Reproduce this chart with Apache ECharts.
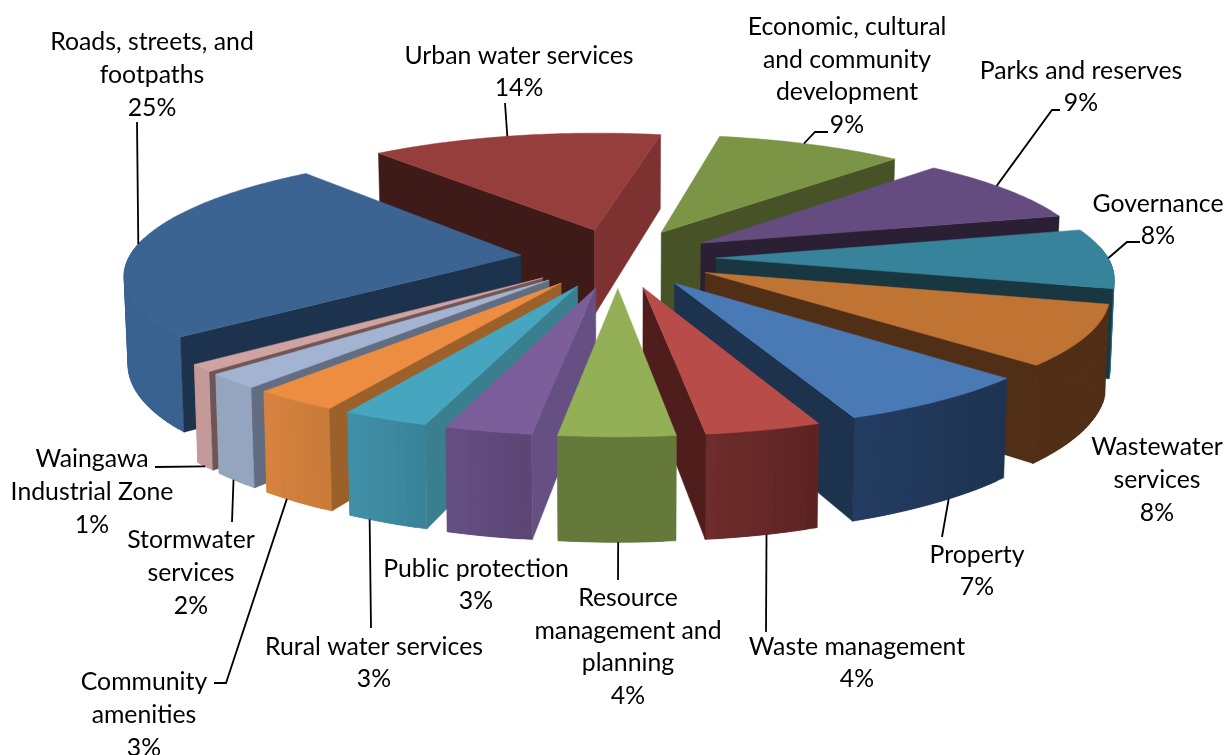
<!DOCTYPE html>
<html>
<head>
<meta charset="utf-8">
<title>Spending by activity</title>
<style>html,body{margin:0;padding:0;background:#fff}#chart{width:1226px;height:755px}</style>
<script src="https://cdn.jsdelivr.net/npm/echarts@6/dist/echarts.min.js"></script>
</head>
<body>
<div id="chart"></div>
<script>
// Activity names, clockwise from the large roading slice
const categories = [
  "Roads, streets, and\nfootpaths", "Urban water services", "Economic, cultural\nand community\ndevelopment",
  "Parks and reserves", "Governance", "Wastewater\nservices", "Property", "Waste management",
  "Resource\nmanagement and\nplanning", "Public protection", "Rural water services",
  "Community\namenities", "Stormwater\nservices", "Waingawa\nIndustrial Zone"
];
// Share of spending, percent
const values = [25, 14, 9, 9, 8, 8, 7, 4, 4, 3, 3, 3, 2, 1];

// Surface colours per slice
const topColors = ["#3C6493","#953E3B","#7B9446","#644C80","#38839C","#C07433","#4A7AB6","#B84C49","#94B056","#7B5E9A","#46A5BF","#EC8D42","#A3B3D2","#CFA3A2"];
const wallFrom  = ["#3A6291","#7D3231","#5A6E30","#4A3860","#2F7085","#512F16","#1E3350","#5C2222","#64793A","#5A4574","#3A8398","#C87A38","#95A5C0","#C39999"];
const wallTo    = ["#3A6291","#7D3231","#5A6E30","#4A3860","#2F7085","#512F16","#233C62","#6F2C2C","#64793A","#664F84","#4090A8","#D88340","#95A5C0","#C39999"];
const faceStart = ["#1D324C","#3E1B18","#475326","#2A1F33","#183740","#512F16","#1D324C","#4E1D1C","#64793A","#665083","#3A7F90","#9C612B","#626D82","#6F5654"];
const faceEnd   = ["#3A6291","#7D3231","#475326","#2A1F33","#183740","#512F16","#1D324C","#4E1D1C","#64793A","#665083","#3A7F90","#9C612B","#626D82","#6F5654"];

// Label block centres and leader routing (leader starts on the slice's outer arc)
const labelCenters = [[152,75],[519,72],[847,76],[1081,87],[1158,220],[1157,480],[977,571],[857,663],[628,647],[476,585],[374,663],[144,715],[191,573],[92,492]];
const leaderRoutes = [
  {at:0.5, edge:0, via:[[137,122]]}, {at:0.475, edge:0, via:[[505,103]]}, {at:0.46, edge:0, via:[[815,132],[828,132]]},
  {at:0.43, edge:0, via:[[1052,110],[1060,110]]}, {at:0.5, edge:0, via:[[1127,242],[1140,242]]}, null,
  {at:0.42, edge:1, via:[[942,537]]}, {at:0.465, edge:1, via:[[766,632]]}, {at:0.49, edge:1, via:[[618,580]]}, null,
  {at:0.73, edge:1, via:[[371,628]]}, {at:0.67, edge:1, via:[[226,683],[214,683]]}, {at:0.57, edge:1, via:[[232,522]]}, {at:0.5, edge:1, via:[[155,467]]}
];

// Projection of the exploded pie
const startAngle = 230.5, explode = 0.25, persp = 0.14;
const cx = 618, cy = 258, scaleX = 392, scaleY = 118, depth = 87, converge = 0.008;
const total = values.reduce((a, b) => a + b, 0);
const RAD = Math.PI / 180;

function project(radius, angle, mid, level) {
  const x = radius * Math.sin(angle * RAD) + explode * Math.sin(mid * RAD);
  const y = radius * Math.cos(angle * RAD) + explode * Math.cos(mid * RAD);
  const p = 1 / (1 + persp * y);
  return [cx + scaleX * x * p * (1 - converge * level), cy - scaleY * y * p + depth * level * p];
}
function mix(a, b, t) {
  const ch = (c, s) => parseInt(c.substr(s, 2), 16);
  const out = [1, 3, 5].map(s => Math.round(ch(a, s) + (ch(b, s) - ch(a, s)) * t));
  return `rgb(${out.join(",")})`;
}

const sweep = i => values[i] / total * 360;
const startOf = i => startAngle + values.slice(0, i).reduce((a, b) => a + b, 0) / total * 360;
const midOf = i => startOf(i) + sweep(i) / 2;
// Painter's order: far slices first
const order = values.map((_, i) => i).sort((a, b) => Math.cos(midOf(b) * RAD) - Math.cos(midOf(a) * RAD));

function renderSlice(params, api) {
  const i = api.value(1), share = api.value(0);
  const a0 = startOf(i), a1 = a0 + share / total * 360, mid = (a0 + a1) / 2;
  const base = order.indexOf(i) * 10 + 1;
  const kids = [];
  const poly = (points, fill, z) => kids.push({
    type: "polygon", silent: true, z2: base + z, shape: { points },
    style: { fill, stroke: fill, lineWidth: 0.5 }
  });
  // Outer wall: overlapping bands, each reaching under the next so no seam shows
  const n = Math.max(2, Math.ceil((a1 - a0) / 1.5));
  const da = (a1 - a0) / n;
  for (let k = 0; k < n; k++) {
    const u = a0 + da * k;
    if (Math.cos(u * RAD) > 0.12) continue;
    const v = Math.min(a1, u + da * 2);
    poly([project(1, u, mid, 0), project(1, v, mid, 0), project(1, v, mid, 1), project(1, u, mid, 1)],
         mix(wallFrom[i], wallTo[i], (k + 0.5) / n), 0);
  }
  // Radial cut faces
  if (Math.sin(a0 * RAD) < 0)
    poly([project(0, a0, mid, 0), project(1, a0, mid, 0), project(1, a0, mid, 1), project(0, a0, mid, 1)], faceStart[i], 1);
  if (Math.sin(a1 * RAD) > 0)
    poly([project(0, a1, mid, 0), project(1, a1, mid, 0), project(1, a1, mid, 1), project(0, a1, mid, 1)], faceEnd[i], 2);
  // Top surface
  const rim = [project(0, a0, mid, 0)];
  for (let k = 0; k <= n * 2; k++) rim.push(project(1, a0 + (a1 - a0) * k / (n * 2), mid, 0));
  poly(rim, topColors[i], 3);
  // Leader line
  const route = leaderRoutes[i];
  if (route) {
    kids.push({
      type: "polyline", silent: true, z2: 500,
      shape: { points: [project(1, a0 + (a1 - a0) * route.at, mid, route.edge)].concat(route.via) },
      style: { fill: "none", stroke: "#000", lineWidth: 1.8 }
    });
  }
  // Name and share
  kids.push({
    type: "text", silent: true, z2: 600, x: labelCenters[i][0], y: labelCenters[i][1],
    style: {
      text: `${categories[i]}\n${share}%`, fill: "#000", align: "center", verticalAlign: "middle",
      font: '24.8px Lato', lineHeight: 32.6
    }
  });
  return { type: "group", children: kids };
}

const chart = echarts.init(document.getElementById("chart"), null, { renderer: "canvas" });
chart.setOption({
  backgroundColor: "#fff",
  animation: false,
  series: [{
    type: "custom",
    coordinateSystem: "none",
    clip: false,
    data: values.map((v, i) => [v, i]),
    renderItem: renderSlice
  }]
});
</script>
</body>
</html>
